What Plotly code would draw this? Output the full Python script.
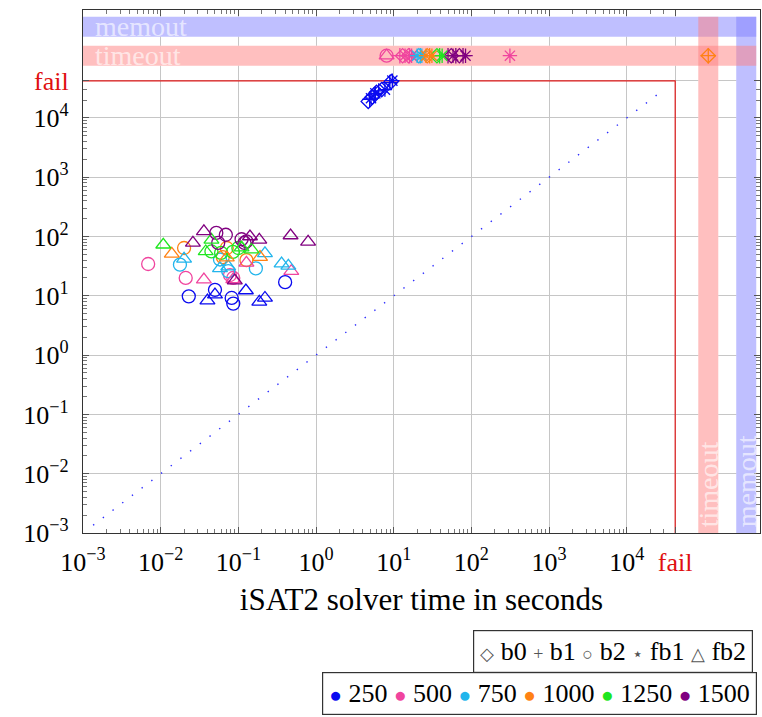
import numpy as np
import plotly.graph_objects as go

# Sentinel values used for runs that did not finish
FAIL = 4.2e4
TIMEOUT = 1.12e5
MEMOUT = 3.45e5
T = TIMEOUT

# Problem sizes and their colours
SIZES = [250, 500, 750, 1000, 1250, 1500]
SIZE_COLORS = ["#0a0af0", "#f0449e", "#22b5ec", "#ff8214", "#1fe61f", "#800080"]

# Benchmark families: name, marker symbol, legend glyph
FAMILIES = ["b0", "b1", "b2", "fb1", "fb2"]
FAMILY_SYMBOLS = ["diamond-open", "cross-thin-open", "circle-open", "asterisk-open", "triangle-up-open"]
FAMILY_GLYPHS = ["◇", "+", "○", "⋆", "△"]

# b0
b0_n = [250, 250, 250, 250, 250, 500, 500, 750, 1000, 1000, 1250, 1500, 1500]
b0_x = [4.7, 5.3, 6.0, 7.0, 9.3, 13.0, 15.5, 21.0, 27.0, TIMEOUT, 36.0, 55.0, 70.0]
b0_y = [1.9e4, 2.25e4, 2.7e4, 3.0e4, 4.1e4, T, T, T, T, T, T, T, T]

# b1
b1_n = [250, 250, 250, 250, 500, 500, 750, 1000, 1000, 1250, 1500, 1500, 1500]
b1_x = [4.9, 5.6, 6.4, 8.9, 12.0, 16.0, 22.0, 29.0, TIMEOUT, 39.0, 50.0, 63.0, 78.0]
b1_y = [2.05e4, 2.45e4, 2.85e4, 3.95e4, T, T, T, T, T, T, T, T, T]

# b2
b2_n = [250, 250, 250, 250, 250,
        500, 500, 500, 500, 500,
        750, 750, 750, 750,
        1000, 1000, 1000, 1000,
        1250, 1250, 1250, 1250,
        1500, 1500, 1500, 1500, 1500, 1500]
b2_x = [0.023, 0.050, 0.082, 0.086, 0.40,
        0.0069, 0.021, 0.078, 0.086, 8.1,
        0.0177, 0.058, 0.074, 0.168,
        0.020, 0.063, 0.071, 0.127,
        0.045, 0.060, 0.100, 0.085,
        0.052, 0.069, 0.055, 0.110, 0.127, 0.120]
b2_y = [9.8, 12.6, 9.2, 7.4, 17.0,
        34.4, 20.0, 22.4, 20.0, T,
        33.5, 41.0, 26.0, 29.0,
        64.0, 45.0, 64.0, 40.0,
        56.0, 53.0, 64.0, 55.0,
        115.0, 107.0, 78.0, 90.0, 83.0, 78.0]

# fb1
fb1_n = [250, 250, 250, 250, 500, 500, 500, 750, 750, 1000, 1000, 1250, 1500, 1500]
fb1_x = [5.1, 5.8, 7.7, 9.6, 14.0, 17.0, 313.0, 20.0, 23.0, 26.0, 31.0, 42.0, 58.0, 84.0]
fb1_y = [2.15e4, 2.6e4, 3.0e4, 4.25e4, T, T, T, T, T, T, T, T, T, T]

# fb2
fb2_n = [250, 250, 250, 250, 250,
         500, 500, 500, 500, 500,
         750, 750, 750, 750, 750, 750,
         1000, 1000, 1000,
         1250, 1250, 1250, 1250, 1250,
         1500, 1500, 1500, 1500, 1500, 1500, 1500]
fb2_x = [0.040, 0.050, 0.125, 0.186, 0.22,
         0.036, 0.086, 0.127, 0.48, 8.1,
         0.020, 0.058, 0.074, 0.22, 0.36, 0.44,
         0.0139, 0.071, 0.19,
         0.0108, 0.045, 0.038, 0.148, 0.110,
         0.026, 0.036, 0.090, 0.141, 0.186, 0.47, 0.79]
fb2_y = [8.3, 10.5, 12.3, 7.9, 9.2,
         18.7, 19.0, 36.0, 26.0, T,
         42.0, 29.0, 31.0, 52.0, 35.0, 32.0,
         51.0, 44.0, 45.0,
         72.7, 88.0, 56.0, 60.0, 65.0,
         78.0, 122.0, 18.0, 100.0, 88.0, 104.0, 81.0]

SERIES = {
    "b0": (b0_n, b0_x, b0_y),
    "b1": (b1_n, b1_x, b1_y),
    "b2": (b2_n, b2_x, b2_y),
    "fb1": (fb1_n, fb1_x, fb1_y),
    "fb2": (fb2_n, fb2_x, fb2_y),
}

# Axis ticks
MAJOR_EXP = list(range(-3, 5))
TICK_VALS = [10.0 ** e for e in MAJOR_EXP] + [FAIL]
TICK_TEXT = [f"10<sup>{str(e).replace('-', '−')}</sup>" for e in MAJOR_EXP] + [
    "<span style='color:#e01010'>fail</span>"]
MINOR_VALS = [k * 10.0 ** e for e in range(-3, 4) for k in range(2, 10)] + [2e4, 3e4]

# Layout geometry
W, H = 762, 717
M_L, M_R, M_T, M_B = 83, 2, 10, 184
X_RANGE = [-3, 5.715]
Y_RANGE = [-3, 5.82]
plot_w = W - M_L - M_R
plot_h = H - M_T - M_B
px_dec_x = plot_w / (X_RANGE[1] - X_RANGE[0])
px_dec_y = plot_h / (Y_RANGE[1] - Y_RANGE[0])
BAND_HALF_PX = 10
fx = 10 ** (BAND_HALF_PX / px_dec_x)
fy = 10 ** (BAND_HALF_PX / px_dec_y)
XMIN, YMIN = 10 ** X_RANGE[0], 10 ** Y_RANGE[0]

SERIF = "Liberation Serif, Times New Roman, serif"
color_of = dict(zip(SIZES, SIZE_COLORS))

fig = go.Figure()

# Outline of the "fail" region
fig.add_trace(go.Scatter(
    x=[XMIN, FAIL, FAIL], y=[FAIL, FAIL, YMIN], mode="lines",
    line=dict(color="#e01a1a", width=1.2), hoverinfo="skip", showlegend=False))

# Diagonal y = x
fig.add_trace(go.Scatter(
    x=[1.35e-3, 3.1e4], y=[1.35e-3, 3.1e4], mode="lines",
    line=dict(color="#2a2aff", width=1.4, dash="1.4px,10.8px"),
    hoverinfo="skip", showlegend=False))

# Marker sizes per family
SYM_SIZE = {"b0": 11, "b1": 11, "b2": 13, "fb1": 12, "fb2": 13}
for fam, sym in zip(FAMILIES, FAMILY_SYMBOLS):
    n, xs, ys = SERIES[fam]
    fig.add_trace(go.Scatter(
        x=xs, y=ys, mode="markers", name=fam,
        marker=dict(symbol=sym, size=SYM_SIZE[fam],
                    color=[color_of[v] for v in n],
                    line=dict(width=1.3)),
        cliponaxis=False, showlegend=False))

# Timeout / memout bands (white underlay hides the grid, tinted layer on top)
bands = [
    # (x0, x1, y0, y1, colour)
    (XMIN, MEMOUT * fx, MEMOUT / fy, MEMOUT * fy, "rgba(128,128,255,0.5)"),
    (MEMOUT / fx, MEMOUT * fx, YMIN, MEMOUT * fy, "rgba(128,128,255,0.5)"),
    (XMIN, MEMOUT * fx, TIMEOUT / fy, TIMEOUT * fy, "rgba(255,128,128,0.5)"),
    (TIMEOUT / fx, TIMEOUT * fx, YMIN, MEMOUT * fy, "rgba(255,128,128,0.5)"),
]
for x0, x1, y0, y1, _ in bands:
    fig.add_shape(type="rect", xref="x", yref="y", x0=x0, x1=x1, y0=y0, y1=y1,
                  fillcolor="white", line_width=0, layer="between")
for x0, x1, y0, y1, c in bands:
    fig.add_shape(type="rect", xref="x", yref="y", x0=x0, x1=x1, y0=y0, y1=y1,
                  fillcolor=c, line_width=0, layer="between")

band_font = dict(family=SERIF, size=28, color="rgba(255,255,255,0.62)")
for label, val in [("memout", MEMOUT), ("timeout", TIMEOUT)]:
    fig.add_annotation(text=label, xref="paper", x=0, xanchor="left", xshift=10,
                       yref="y", y=np.log10(val), yanchor="middle", showarrow=False,
                       font=band_font)
    fig.add_annotation(text=label, xref="x", x=np.log10(val), xanchor="center",
                       yref="paper", y=0, yanchor="bottom", yshift=4, textangle=-90,
                       showarrow=False, font=band_font)

# Legends: benchmark families and problem sizes
fam_text = " ".join(
    f"<span style='font-size:18px;color:#555'>{g}</span> {name}"
    for g, name in zip(FAMILY_GLYPHS, FAMILIES))
size_text = " ".join(
    f"<span style='font-size:21px;color:{c}'>●</span> {s}"
    for s, c in zip(SIZES, SIZE_COLORS))
legend_box = dict(showarrow=False, xref="paper", yref="paper", xanchor="left",
                  yanchor="top", bordercolor="#333", borderwidth=1.2, borderpad=6,
                  bgcolor="white", font=dict(family=SERIF, size=26, color="black"))
fig.add_annotation(text=fam_text, x=(473 - M_L) / plot_w,
                   y=(H - M_B - 630) / plot_h, **legend_box)
fig.add_annotation(text=size_text, x=(322 - M_L) / plot_w,
                   y=(H - M_B - 672) / plot_h, **legend_box)

axis_common = dict(
    type="log", tickmode="array", tickvals=TICK_VALS, ticktext=TICK_TEXT,
    showgrid=True, gridcolor="#c6c6c6", gridwidth=1,
    showline=True, linecolor="#333", linewidth=1.2, mirror="allticks",
    ticks="inside", ticklen=6, tickwidth=1, tickcolor="#555",
    minor=dict(tickvals=MINOR_VALS, ticks="inside", ticklen=3.5,
               tickcolor="#777", showgrid=False),
    tickfont=dict(family=SERIF, size=26, color="black"),
    zeroline=False,
)

fig.update_layout(
    width=W, height=H,
    margin=dict(l=M_L, r=M_R, t=M_T, b=M_B),
    paper_bgcolor="white", plot_bgcolor="white",
    showlegend=False,
    font=dict(family=SERIF, size=25, color="black"),
    xaxis=dict(range=X_RANGE, ticklabelstandoff=6,
               title=dict(text="iSAT2 solver time in seconds",
                          font=dict(family=SERIF, size=31), standoff=12),
               **axis_common),
    yaxis=dict(range=Y_RANGE, ticklabelstandoff=8, **axis_common),
)

fig.write_html("out.html")
